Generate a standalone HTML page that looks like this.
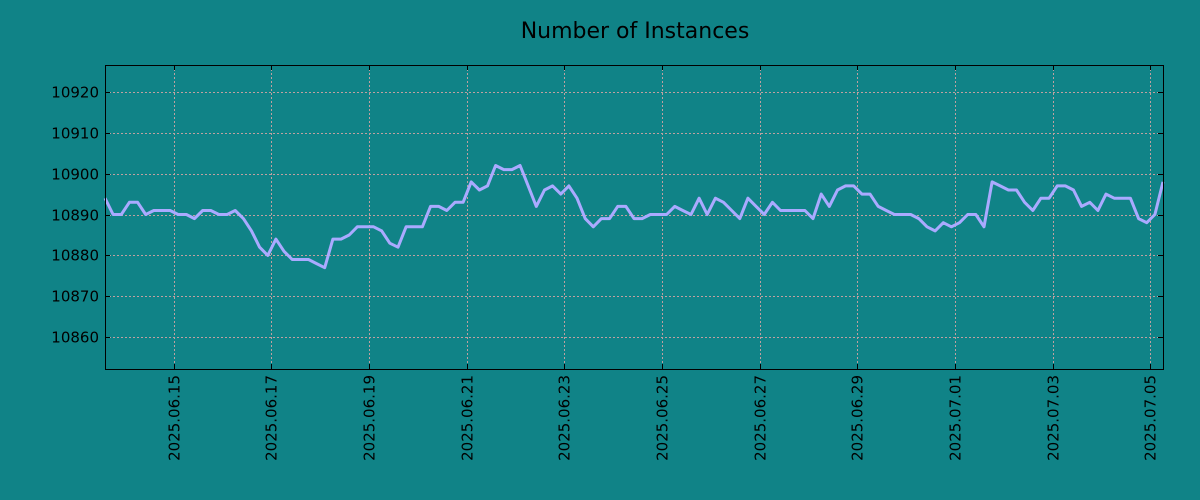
<!DOCTYPE html>
<html><head><meta charset="utf-8"><style>
body{margin:0;background:#108387;}
svg{display:block;font-family:"DejaVu Sans","Liberation Sans",sans-serif;}
</style></head><body>
<svg id="chart" width="1200" height="500">
<rect width="1200" height="500" fill="#108387"/>
<text x="635" y="38" text-anchor="middle" font-size="22" fill="#000">Number of Instances</text>
<g id="grid"></g>
<g id="axes"></g>
<path id="line" fill="none" stroke="#aaaaff" stroke-width="3" stroke-linejoin="round"/>
<rect x="105.5" y="65.5" width="1058" height="304" fill="none" stroke="#000" stroke-width="1"/>
</svg>
<script>
const startTime = Date.UTC(2025,5,13,14,10);
const stepHours = 4;
const values = [10894,10890,10890,10893,10893,10890,10891,10891,10891,10890,10890,10889,10891,10891,10890,10890,10891,10889,10886,10882,10880,10884,10881,10879,10879,10879,10878,10877,10884,10884,10885,10887,10887,10887,10886,10883,10882,10887,10887,10887,10892,10892,10891,10893,10893,10898,10896,10897,10902,10901,10901,10902,10897,10892,10896,10897,10895,10897,10894,10889,10887,10889,10889,10892,10892,10889,10889,10890,10890,10890,10892,10891,10890,10894,10890,10894,10893,10891,10889,10894,10892,10890,10893,10891,10891,10891,10891,10889,10895,10892,10896,10897,10897,10895,10895,10892,10891,10890,10890,10890,10889,10887,10886,10888,10887,10888,10890,10890,10887,10898,10897,10896,10896,10893,10891,10894,10894,10897,10897,10896,10892,10893,10891,10895,10894,10894,10894,10889,10888,10890,10898];
const yTicks = [10860,10870,10880,10890,10900,10910,10920];
const xTickLabels = ["2025.06.15","2025.06.17","2025.06.19","2025.06.21","2025.06.23","2025.06.25","2025.06.27","2025.06.29","2025.07.01","2025.07.03","2025.07.05"];

const L=105,R=1163,T=65,B=369;
const t0=startTime, t1=startTime+(values.length-1)*stepHours*3600e3;
const yMin=10852.2, yMax=10926.6;
const xs=t=>L+(t-t0)/(t1-t0)*(R-L);
const ys=v=>B-(v-yMin)/(yMax-yMin)*(B-T);
const NS="http://www.w3.org/2000/svg";
const grid=document.getElementById('grid'), axes=document.getElementById('axes');
function mk(tag,attrs,parent){const e=document.createElementNS(NS,tag);for(const k in attrs)e.setAttribute(k,attrs[k]);parent.appendChild(e);return e;}
yTicks.forEach(v=>{
  const y=Math.round(ys(v))+0.5;
  const g=mk('line',{x1:L,x2:R,y1:y,y2:y,stroke:'#c0a0a0','stroke-dasharray':'2,2','stroke-width':1},grid);
  
  
  const t1l=mk('line',{x1:L,x2:L+5,y1:y,y2:y,stroke:'#000'},axes);
  
  
  const t2l=mk('line',{x1:R-5,x2:R,y1:y,y2:y,stroke:'#000'},axes);
  
  
  const tx=mk('text',{x:L-6,y:y+5,'text-anchor':'end','font-size':15,fill:'#000'},axes);
  tx.textContent=v;
  
  
});
xTickLabels.forEach(s=>{
  const p=s.split('.');
  const x=Math.round(xs(Date.UTC(+p[0],+p[1]-1,+p[2])))+0.5;
  const g=mk('line',{x1:x,x2:x,y1:T,y2:B,stroke:'#c0a0a0','stroke-dasharray':'2,2','stroke-width':1},grid);
  
  
  const tk=mk('line',{x1:x,x2:x,y1:B-5,y2:B,stroke:'#000'},axes);
  
  
  const tk2=mk('line',{x1:x,x2:x,y1:T,y2:T+5,stroke:'#000'},axes);
  
  
  const tx=mk('text',{x:0,y:0,'text-anchor':'end','font-size':15,fill:'#000',transform:`translate(${x+5},${B+6}) rotate(-90)`},axes);
  tx.textContent=s;
  
  
});
document.getElementById('line').setAttribute('d',values.map((v,i)=>(i?'L':'M')+xs(t0+i*stepHours*3600e3).toFixed(1)+','+ys(v).toFixed(1)).join(''));
</script>
</body></html>
